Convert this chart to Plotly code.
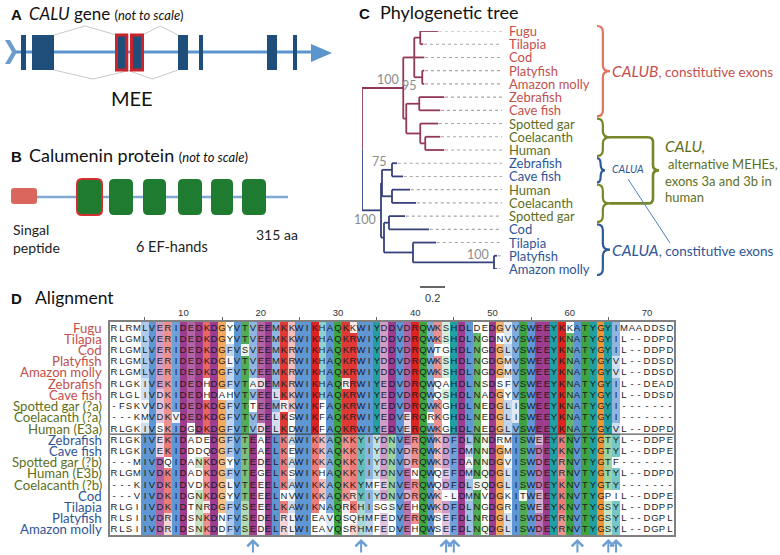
import plotly.graph_objects as go

W, H = 780, 555
FONT = "Lato"
SANS = "Liberation Sans"

# ---------------- DATA ----------------
# Panel A: CALU gene (diagram units, not to scale)
gene_line = (13, 311)
exon_start = [21, 32, 116.5, 131.5, 178, 199, 267, 293]
exon_end = [26, 54, 126.8, 142.5, 188, 203, 277, 297]
exon_mee = [False, False, True, True, False, False, False, False]
splice_links = [(1, 2, "top"), (3, 4, "top"), (1, 3, "bottom"), (2, 4, "bottom")]

# Panel B: Calumenin protein (diagram units, not to scale)
protein_span = (37, 288)
signal_peptide = (11, 37)
ef_start = [77, 109, 143, 178, 211, 242]
ef_end = [102, 133, 166, 202, 233, 266]
ef_mee = [True, False, False, False, False, False]

# Panel C: tree (name, branch length, children)
tree = ("root", 0.0, [
    ("top", 0.33, [
        ("nA", 0.088, [
            ("nFT", 0.048, [("Fugu", 0.144, None), ("Tilapia", 0.024, None)]),
            ("Cod", 0.08, None),
            ("nPA", 0.064, [("Platyfish", 0.016, None), ("Amazon molly", 0.016, None)]),
        ]),
        ("nB", 0.024, [
            ("nZC", 0.104, [("Zebrafish", 0.2, None), ("Cave fish", 0.168, None)]),
            ("nT", 0.112, [("Spotted gar", 0.144, None),
                           ("nCH", 0.04, [("Coelacanth", 0.12, None), ("Human", 0.152, None)])]),
        ]),
    ]),
    ("bot", 0.152, [
        ("nZH", 0.008, [
            ("nZ", 0.08, [("Zebrafish", 0.04, None), ("Cave fish", 0.088, None)]),
            ("nH", 0.08, [("Human", 0.144, None), ("Coelacanth", 0.192, None)]),
        ]),
        ("nGF", 0.024, [
            ("nGC", 0.04, [("Spotted gar", 0.128, None), ("Cod", 0.32, None)]),
            ("nTPA", 0.232, [("Tilapia", 0.184, None),
                             ("nPA2", 0.648, [("Platyfish", 0.024, None), ("Amazon molly", 0.024, None)])]),
        ]),
    ]),
])
leaf_class = ["B"] * 7 + ["C"] * 3 + ["A"] * 2 + ["C"] * 3 + ["A"] * 4
support = {"top": 100, "nPA": 95, "bot": 100, "nZ": 75, "nPA2": 100}
scale_bar = 0.2
brace_groups = [("CALUB", 0, 6), ("CALU_a", 7, 9), ("CALUA_s", 10, 11), ("CALU_b", 12, 14), ("CALUA", 15, 18)]

# Panel D: alignment
aln_names = ["Fugu", "Tilapia", "Cod", "Platyfish", "Amazon molly", "Zebrafish", "Cave fish",
             "Spotted gar (?a)", "Coelacanth (?a)", "Human (E3a)",
             "Zebrafish", "Cave fish", "Spotted gar (?b)", "Human (E3b)", "Coelacanth (?b)",
             "Cod", "Tilapia", "Platyfish", "Amazon molly"]
aln_class = ["B"] * 7 + ["C"] * 3 + ["A"] * 2 + ["C"] * 3 + ["A"] * 4
aln_seqs = [
    "RLRMLVERIDEDKDGYVTVEEMKKWIKHAQKKWIY" + "DDVDRQWKSHDLDEDGVVSWEEYKKATYGYIMAADDSD",
    "RLGMLVERIDEDKDGYVTVEEMKKWIKHAQKRWIY" + "DDVDRQWKSHDLNGDNVVSWEEYKNATYGYIL--DDPD",
    "RLGMLVERIDEDKDGFVSVEEMKRWIKHAQKRWIY" + "DDVDRQWTGHDLNGDGLVSWEEYKNATYGYIL--DDPD",
    "RLGMLVERIDEDKDGLVTVEEMKRWIKHAQKRWIY" + "DDVDRQWKSHDLNGDGMVSWEEYKNATYGYVL--DDSD",
    "RLGMLVERIDEDKDGFVTVEEMKRWIKHAQKRWIY" + "DDVDRQWKSHDLNGDGMVSWEEYKNATYGYVL--DDSD",
    "RLGKIVEKIDEDHDGFVTADEMKRWIKHAQRRWIY" + "EDVDRQWQAHDLNSDSFVSWEEYKNATYGYIL--DEAD",
    "RLGLIVDKIDEDHDAHVTVEELKKWIKHAQKRWIY" + "EDVDRQWQSHDLNADGYVSWEEYKNATYGYIL--DDSD",
    "-FSKVVDKIDEDKDGFVTTEEMRKWIKFAQKRWIY" + "EDVDRQWKGHDLNEDGLISWEEYKNATYGYI-------",
    "---KMVDKVDEDKDGFVTVEELKSWIKFAQKRWIY" + "EDVERQRKGHDLNEDGLISWEEYKNATYGYI-------",
    "RLGKIVSKIDGDKDGFVTVDELKDWIKFAQKRWIY" + "EDVERQWKGHDLNEDGLVSWEEYKNATYGYVL--DDPD",
    "RLGKIVEKIDADEDGFVTEAELKAWIKKAQKKYIY" + "DNVERQWKDFDLNNDRMISWEEYKNVTYGTYL--DDPE",
    "RLGKIVEKIDDDQDGFVTEAELKEWIKKAQKKYIY" + "DNVDRQWKDFDMNNDGMISWDEYKNVTYGTYL--DDPE",
    "---MIVDQIDANKDGYVTEDELKAWIKKAQKKYIY" + "DNVDRQWKDFDANNDGVISWDEYRNVTYGTF-------",
    "RLGMIVDKIDADKDGFVTEGELKSWIKHAQKKYIY" + "DNVENQWQEFDMNQDGLISWDEYRNVTYGTYL--DDPD",
    "---KIVDKIDVDKDGLVTEEELKAWIKKAQKKYMF" + "ENVERQWQDFDLSQDGLISWDEYKNVTYGTY-------",
    "---VIVDKIDGNKDGYVTEEELNVWIKKAQKRYIY" + "DNVDRQWK-LDMNVDGKITWEEYKNVTYGPIL--DDPE",
    "RLGIIVDKIDTNRDGFVSEEELKAWIKNAQRKHIS" + "GSVEHQWKDFDLNGDGRISWEEYKNVTYGSYL--DDPP",
    "RLSIIVDRIDSNKDNFVSEDELRLWIEAVQSQHMF" + "EDVERQWSEFDLNRDGLISWDEYRNVTYGSYL--DGPL",
    "RLSIIVDRIDSNKDDFVSEDELRLWIEAVQSRHMF" + "EDVEHQWSEFDLNQDGLISWDEYRNVTYGSYL--DGPL",
]
aln_blocks = [(0, 10), (10, 19)]
colored_cols = (5, 66)
ruler_ticks = [10, 20, 30, 40, 50, 60, 70]
arrow_cols = [19, 33, 44, 45, 61, 65, 66]

# ---------------- STYLE ----------------
TXT = {"B": "#c4504c", "C": "#5e6f1c", "A": "#2f5596"}
BRANCH = {"top": "#933955", "bot": "#36417c"}
EXON = "#1f4e7a"
LINEBLUE = "#5a95cd"

fig = go.Figure()
shapes, annos = [], []


def T(x, y, s, size, color="#222", xanchor="left", family=FONT, xref="x3", yref="y3", **kw):
    annos.append(dict(x=x, y=y, xref=xref, yref=yref, text=s, showarrow=False, xanchor=xanchor,
                      yanchor="middle", font=dict(family=family, size=size, color=color), **kw))


def rrect(x0, y0, x1, y1, r):
    return (f"M {x0+r},{y0} L {x1-r},{y0} Q {x1},{y0} {x1},{y0+r} L {x1},{y1-r} Q {x1},{y1} {x1-r},{y1} "
            f"L {x0+r},{y1} Q {x0},{y1} {x0},{y1-r} L {x0},{y0+r} Q {x0},{y0} {x0+r},{y0} Z")


# ---------- canvas axis helper trace ----------
fig.add_trace(go.Scatter(x=[0], y=[0], mode="markers", marker=dict(opacity=0), xaxis="x3", yaxis="y3",
                         hoverinfo="skip", showlegend=False))

# ---------- Panel A ----------
GY, GT, GB = 52, 35, 70
shapes.append(dict(type="line", xref="x3", yref="y3", x0=gene_line[0], x1=gene_line[1], y0=GY, y1=GY,
                   line=dict(color=LINEBLUE, width=3), layer="below"))
g1 = gene_line[1]
shapes.append(dict(type="path", xref="x3", yref="y3", path=f"M {g1},{GY-8} L {g1+21},{GY+1} L {g1},{GY+10} Z",
                   fillcolor=LINEBLUE, line=dict(width=0)))
g0 = gene_line[0]
shapes.append(dict(type="path", xref="x3", yref="y3",
                   path=f"M {g0-8},{GY-12} L {g0-3},{GY-12} L {g0+4},{GY} L {g0-3},{GY+12} L {g0-8},{GY+12} L {g0-1},{GY} Z",
                   fillcolor="#6d9dcc", line=dict(width=0)))
for a, b, side in splice_links:
    xa, xb = exon_end[a], exon_start[b]
    ye, ya = (GT, GT - 9) if side == "top" else (GB, GB + 9)
    shapes.append(dict(type="path", xref="x3", yref="y3",
                       path=f"M {xa},{ye} L {(xa+xb)/2},{ya} L {xb},{ye}",
                       line=dict(color="#c9c9c9", width=1)))
for s, e, m in zip(exon_start, exon_end, exon_mee):
    shapes.append(dict(type="rect", xref="x3", yref="y3", x0=s, x1=e, y0=GT, y1=GB, fillcolor=EXON,
                       line=dict(color="#c8242b" if m else EXON, width=3 if m else 0)))
T(9, 14, "<b>A</b>", 15, family=SANS, color="#111")
T(27, 13, "<i>CALU</i> gene <span style='font-size:13px'>(<i>not to scale</i>)</span>", 17, color="#111")
T(132, 98, "MEE", 20, xanchor="center", color="#111")

# ---------- Panel B ----------
PY = 197
shapes.append(dict(type="line", xref="x3", yref="y3", x0=protein_span[0], x1=protein_span[1], y0=PY, y1=PY,
                   line=dict(color="#80a9d2", width=2.5), layer="below"))
shapes.append(dict(type="path", xref="x3", yref="y3", path=rrect(signal_peptide[0], PY - 9, signal_peptide[1], PY + 7, 3),
                   fillcolor="#d9675e", line=dict(width=0)))
for s, e, m in zip(ef_start, ef_end, ef_mee):
    shapes.append(dict(type="path", xref="x3", yref="y3", path=rrect(s, PY - 18, e, PY + 18, 5),
                       fillcolor="#1e7b2f", line=dict(color="#d23030" if m else "#1e7b2f", width=2 if m else 0)))
T(9, 156, "<b>B</b>", 15, family=SANS, color="#111")
T(27, 155, "Calumenin protein <span style='font-size:13px'>(<i>not to scale</i>)</span>", 18, color="#111")
T(11, 229, "Singal", 14, color="#222")
T(11, 247, "peptide", 14, color="#222")
T(172, 246, "6 EF-hands", 14.5, xanchor="center", color="#222")
T(254, 234, "315 aa", 14, color="#222")

# ---------- Panel C: tree ----------
leaf_pos = []
nodes = {}
seg = {"top": ([], []), "bot": ([], [])}


def add_seg(c, xs, ys):
    seg[c][0].extend(xs + [None])
    seg[c][1].extend(ys + [None])


def walk(node, parent_x, clade):
    name, bl, kids = node
    x = parent_x + bl
    if not kids:
        y = float(len(leaf_pos))
        leaf_pos.append((name, x, y))
    else:
        cy = [walk(k, x, clade or k[0]) for k in kids]
        y = (cy[0] + cy[-1]) / 2
        if clade is None:
            add_seg("top", [x, x], [cy[0], y])
            add_seg("bot", [x, x], [y, cy[-1]])
        else:
            add_seg(clade, [x, x], [cy[0], cy[-1]])
        nodes[name] = (x, y)
    if clade is not None:
        add_seg(clade, [parent_x, x], [y, y])
    return y


walk(tree, 0.0, None)
XEND = 1.12
dx, dy = [], []
for name, x, y in leaf_pos:
    dx += [x + 0.006, XEND, None]
    dy += [y, y, None]
fig.add_trace(go.Scatter(x=dx, y=dy, mode="lines", line=dict(color="#a8a8a8", width=1.1, dash="dot"),
                         xaxis="x2", yaxis="y2", hoverinfo="skip", showlegend=False))
for c in ("top", "bot"):
    fig.add_trace(go.Scatter(x=seg[c][0], y=seg[c][1], mode="lines", line=dict(color=BRANCH[c], width=1.8),
                             xaxis="x2", yaxis="y2", hoverinfo="skip", showlegend=False))

LEAF_Y0, LEAF_DY = 31, (269 - 31) / 18
for (name, x, y), cl in zip(leaf_pos, leaf_class):
    T(507, LEAF_Y0 + y * LEAF_DY, name, 13, color=TXT[cl])

sup_off = {"top": (-2, -9), "nPA": (-3, 8), "bot": (-3, 9), "nZ": (-3, -8), "nPA2": (-3, -8)}
for k, v in support.items():
    x, y = nodes[k]
    ox, oy = sup_off[k]
    annos.append(dict(x=x, y=y, xref="x2", yref="y2", text=str(v), showarrow=False, xanchor="right",
                      yanchor="middle", xshift=ox, yshift=-oy,
                      font=dict(family=FONT, size=12.5, color="#8c8c8c")))

# scale bar
shapes.append(dict(type="line", xref="x2", yref="y3", x0=0.464, x1=0.464 + scale_bar, y0=287, y1=287,
                   line=dict(color="#333", width=1.5)))
annos.append(dict(x=0.464 + scale_bar / 2, y=298, xref="x2", yref="y3", text=str(scale_bar), showarrow=False,
                  font=dict(family=SANS, size=11, color="#333")))

T(357, 13, "<b>C</b>", 15, family=SANS, color="#111")
T(378, 12, "Phylogenetic tree", 18, color="#111")


def ly(i):
    return LEAF_Y0 + i * LEAF_DY


def brace(x0, ya, yb, w, r=6):
    xm = x0 + w * 0.45
    ym = (ya + yb) / 2
    return (f"M {x0},{ya} Q {xm},{ya} {xm},{ya+r} L {xm},{ym-r} Q {xm},{ym} {x0+w},{ym} "
            f"Q {xm},{ym} {xm},{ym+r} L {xm},{yb-r} Q {xm},{yb} {x0},{yb}")


BR_COL = {"CALUB": "#e2735f", "CALU_a": "#76862a", "CALU_b": "#76862a", "CALUA_s": "#2f5a9a", "CALUA": "#2f5a9a"}
tips = {}
for key, i0, i1 in brace_groups:
    w = 8 if key == "CALUA_s" else 13
    ya, yb = ly(i0) - 5, ly(i1) + 6
    shapes.append(dict(type="path", xref="x3", yref="y3", path=brace(597, ya, yb, w),
                       line=dict(color=BR_COL[key], width=2.2)))
    tips[key] = (597 + w, (ya + yb) / 2)

# big CALU bracket
xa, ta = tips["CALU_a"]
_, tb = tips["CALU_b"]
XB, rr = 653, 5
tm = (ta + tb) / 2
shapes.append(dict(type="path", xref="x3", yref="y3",
                   path=(f"M {xa},{ta} L {XB-rr},{ta} Q {XB},{ta} {XB},{ta+rr} L {XB},{tm-rr} Q {XB},{tm} {XB+6},{tm} "
                         f"Q {XB},{tm} {XB},{tm+rr} L {XB},{tb-rr} Q {XB},{tb} {XB-rr},{tb} L {xa},{tb}"),
                   line=dict(color="#76862a", width=2.6)))
shapes.append(dict(type="line", xref="x3", yref="y3", x0=628, y0=179, x1=670, y1=243,
                   line=dict(color="#4f80bd", width=1)))

T(610, tips["CALUB"][1], "<i>CALUB</i><span style='font-size:13.5px'>, constitutive exons</span>", 15.5, color=TXT["B"])
T(610, tips["CALUA"][1], "<i>CALUA</i><span style='font-size:13.5px'>, constitutive exons</span>", 15.5, color=TXT["A"])
T(610, tips["CALUA_s"][1] - 1, "<i>CALUA</i>", 10.5, color=TXT["A"])
T(663, 146, "<i>CALU,</i>", 15.5, color=TXT["C"])
T(666, 164, "alternative MEHEs,", 13, color=TXT["C"])
T(663, 181, "exons 3a and 3b in", 13, color=TXT["C"])
T(663, 197, "human", 13, color=TXT["C"])

# ---------- Panel D: alignment ----------
GROUPS = {}
for g, chars in {"hyd": "AILMFWVC", "pos": "KR", "neg": "DE", "pol": "NQST", "gly": "G", "pro": "P",
                 "aro": "HY"}.items():
    for ch in chars:
        GROUPS[ch] = g
BASE = {"hyd": (95, 150, 212), "pos": (222, 36, 32), "neg": (158, 60, 144), "pol": (62, 164, 66),
        "gly": (243, 148, 52), "pro": (236, 222, 92), "aro": (32, 160, 162)}

nrow, ncol = len(aln_seqs), len(aln_seqs[0])
assert all(len(s) == ncol for s in aln_seqs), [len(s) for s in aln_seqs]
cell = [["#ffffff"] * ncol for _ in range(nrow)]
for b0, b1 in aln_blocks:
    n = b1 - b0
    for c in range(colored_cols[0] - 1, colored_cols[1]):
        col = [aln_seqs[r][c] for r in range(b0, b1)]
        for r in range(b0, b1):
            ch = aln_seqs[r][c]
            g = GROUPS.get(ch)
            if g is None:
                continue
            gf = sum(GROUPS.get(x) == g for x in col) / n
            idf = col.count(ch) / n
            if gf < 0.5:
                continue
            t = 0.6 * idf + 0.4 * gf
            s = min(1.0, max(0.12, (t - 0.38) / 0.62))
            s = round(s * 10) / 10
            rgb = tuple(int(round(255 + (v - 255) * s)) for v in BASE[g])
            cell[r][c] = "#%02x%02x%02x" % rgb

uniq = sorted(set(c for row in cell for c in row))
N = len(uniq)
idx = {c: i for i, c in enumerate(uniq)}
z = [[idx[c] + 0.5 for c in row] for row in cell]
cs = []
for i, c in enumerate(uniq):
    cs.append([i / N, c])
    cs.append([(i + 1) / N, c])
letters = [list(s) for s in aln_seqs]
fig.add_trace(go.Heatmap(z=z, x=list(range(1, ncol + 1)), y=list(range(nrow)), text=letters,
                         texttemplate="%{text}", textfont=dict(family=SANS, size=9.5, color="#1c1c1c"),
                         colorscale=cs, zmin=0, zmax=N, showscale=False, hoverinfo="skip",
                         xaxis="x", yaxis="y"))
shapes.append(dict(type="line", xref="x", yref="y", x0=0.5, x1=ncol + 0.5, y0=aln_blocks[0][1] - 0.5,
                   y1=aln_blocks[0][1] - 0.5, line=dict(color="#333", width=1)))
for i, (nm, cl) in enumerate(zip(aln_names, aln_class)):
    annos.append(dict(x=104, y=i, xref="x3", yref="y", text=nm, showarrow=False, xanchor="right",
                      yanchor="middle", font=dict(family=FONT, size=13.2, color=TXT[cl])))
for c in arrow_cols:
    annos.append(dict(x=c, y=539, xref="x", yref="y3", text="", showarrow=True, ax=0, ay=15,
                      arrowhead=4, arrowsize=1.1, arrowwidth=2, arrowcolor="#6c9ed2", standoff=0))
T(9, 298, "<b>D</b>", 15, family=SANS, color="#111")
T(33, 297, "Alignment", 17.5, color="#111")

fig.update_layout(
    width=W, height=H, margin=dict(l=0, r=0, t=0, b=0), paper_bgcolor="white",
    plot_bgcolor="rgba(0,0,0,0)", showlegend=False, font=dict(family=FONT),
    xaxis=dict(domain=[110 / W, 674 / W], range=[0.5, ncol + 0.5], side="top", tickvals=ruler_ticks,
               ticks="", tickfont=dict(family=SANS, size=9.5, color="#333"), showline=True, mirror=True,
               linecolor="#808080", linewidth=1.5, showgrid=False, zeroline=False, anchor="y",
               minor=dict(ticks="outside", ticklen=3, tickcolor="#666", tick0=5, dtick=10, showgrid=False)),
    yaxis=dict(domain=[1 - 535 / H, 1 - 322 / H], range=[nrow - 0.5, -0.5], showticklabels=False, ticks="",
               showline=True, mirror=True, linecolor="#808080", linewidth=1.5, showgrid=False,
               zeroline=False, anchor="x"),
    xaxis2=dict(domain=[362 / W, 502 / W], range=[0, XEND], visible=False, anchor="y2"),
    yaxis2=dict(domain=[1 - 269 / H, 1 - 31 / H], range=[18, 0], visible=False, anchor="x2"),
    xaxis3=dict(domain=[0, 1], range=[0, W], visible=False, anchor="y3"),
    yaxis3=dict(domain=[0, 1], range=[H, 0], visible=False, anchor="x3"),
    shapes=shapes, annotations=annos,
)
fig.write_html("out.html", config={"displayModeBar": False},
               post_script="document.body.style.margin='0';document.body.style.overflow='hidden';")
